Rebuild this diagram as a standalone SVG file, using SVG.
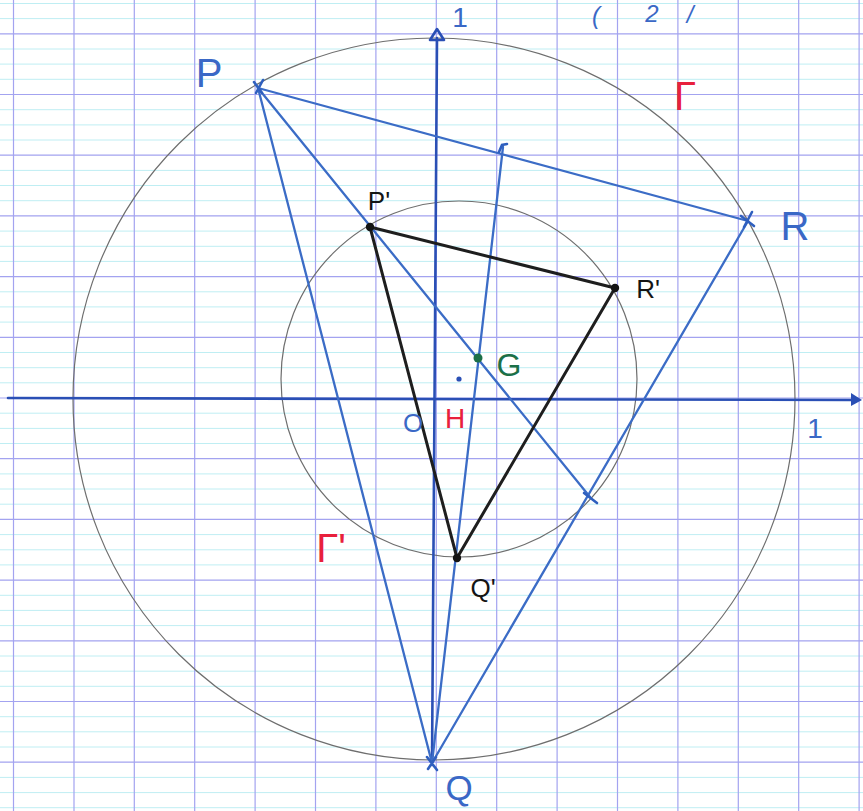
<svg xmlns="http://www.w3.org/2000/svg" width="863" height="811" viewBox="0 0 863 811">
<defs>
<style>
.minor{stroke:#bfeef3;stroke-width:1;fill:none}
.major{stroke:#a3a3f0;stroke-width:1.2;fill:none}
.circle{fill:none;stroke:#6e6e6e;stroke-width:1.2}
.axis{stroke:#2a4fb5;stroke-width:2.6;fill:none;stroke-linecap:round}
.blue{stroke:#3b6cc6;stroke-width:2.3;fill:none;stroke-linecap:round}
.black{stroke:#1e1e1e;stroke-width:3;fill:none;stroke-linejoin:round;stroke-linecap:round}
.tick{stroke:#2f5fbf;stroke-width:2.6;fill:none;stroke-linecap:round}
.lbl{font-family:"Liberation Sans","DejaVu Sans",sans-serif;text-anchor:middle}
.lb{fill:#3a68c6}
.lr{fill:#e8203c}
.lk{fill:#141414}
.lg{fill:#1b7048}
</style>
</defs>
<rect width="863" height="811" fill="#ffffff"/>
<g id="paper">
<path class="minor" d="M0 3.5H863M0 18.6H863M0 49H863M0 64.1H863M0 79.3H863M0 109.7H863M0 124.9H863M0 140H863M0 170.4H863M0 185.5H863M0 200.7H863M0 231.1H863M0 246.3H863M0 261.4H863M0 291.8H863M0 306.9H863M0 322.1H863M0 352.5H863M0 367.7H863M0 382.8H863M0 413.2H863M0 428.4H863M0 443.5H863M0 473.9H863M0 489H863M0 504.2H863M0 534.6H863M0 549.8H863M0 564.9H863M0 595.3H863M0 610.4H863M0 625.6H863M0 656H863M0 671.2H863M0 686.3H863M0 716.7H863M0 731.8H863M0 747H863M0 777.4H863M0 792.6H863M0 807.7H863"/>
<path class="major" d="M0 33.8H863M0 94.5H863M0 155.2H863M0 215.9H863M0 276.6H863M0 337.3H863M0 398H863M0 458.7H863M0 519.4H863M0 580.1H863M0 640.8H863M0 701.5H863M0 762.2H863"/>
<path class="major" d="M13.5 0V811M74 0V811M134.3 0V811M194.7 0V811M255.1 0V811M315.5 0V811M375.9 0V811M436.3 0V811M496.7 0V811M557.1 0V811M617.5 0V811M677.9 0V811M738.3 0V811M798.7 0V811M859.1 0V811"/>
</g>
<g id="circles">
<circle id="Gamma-circle" class="circle" cx="434" cy="399" r="361"/>
<circle id="Gamma-prime-circle" class="circle" cx="459" cy="379" r="178"/>
</g>
<g id="axes">
<line class="axis" x1="8" y1="398" x2="853" y2="400"/>
<path d="M851 393 L862 400 L851 406 Z" fill="#2a4fb5"/>
<line class="axis" x1="432" y1="765" x2="437" y2="38"/>
<path d="M430 40 L437 29 L444 40 Z" fill="none" stroke="#2a4fb5" stroke-width="2.6" stroke-linejoin="round"/>
</g>
<g id="connectors">
<line class="blue" x1="258" y1="88" x2="748" y2="221"/>
<line class="blue" x1="258" y1="88" x2="432" y2="763"/>
<line class="blue" x1="432" y1="763" x2="748" y2="221"/>
<line class="blue" x1="258" y1="88" x2="590" y2="497"/>
<line class="blue" x1="432" y1="763" x2="503" y2="147"/>
<path class="black" d="M370 227 L615 288 L457 558 Z"/>
<path class="tick" d="M499 152 L502 145 L507 144"/>
<path class="tick" d="M584 493 L597 503"/>
</g>
<g id="top-note">
<text class="lbl lb" font-size="24" font-style="italic"><tspan x="596" y="24">(</tspan><tspan x="652" y="22">2</tspan><tspan x="690" y="23">/</tspan></text>
</g>
<g id="P">
<path class="tick" d="M254 82 L262 93 M256 93 L263 80"/>
<text class="lbl lb" x="209" y="87" font-size="40">P</text>
</g>
<g id="R">
<path class="tick" d="M741 216 L754 226 M744 227 L752 212"/>
<text class="lbl lb" x="795" y="240" font-size="40">R</text>
</g>
<g id="Q">
<path class="tick" d="M427 757 L437 770 M428 769 L436 757"/>
<text class="lbl lb" x="459" y="800" font-size="35">Q</text>
</g>
<g id="P-prime">
<circle cx="370" cy="227" r="4.2" fill="#141414"/>
<text class="lbl lk" x="379" y="210" font-size="26">P'</text>
</g>
<g id="R-prime">
<circle cx="615" cy="288" r="4.2" fill="#141414"/>
<text class="lbl lk" x="648" y="298" font-size="26">R'</text>
</g>
<g id="Q-prime">
<circle cx="457" cy="558" r="4.2" fill="#141414"/>
<text class="lbl lk" x="483" y="597" font-size="26">Q'</text>
</g>
<g id="G">
<circle cx="478" cy="358" r="4.5" fill="#1b7048"/>
<text class="lbl lg" x="509" y="376" font-size="32">G</text>
</g>
<g id="H">
<circle cx="459" cy="379" r="2.6" fill="#2a4fb5"/>
<text class="lbl lr" x="455" y="428" font-size="28">H</text>
</g>
<g id="O">
<text class="lbl lb" x="413" y="432" font-size="26">O</text>
</g>
<g id="unit-y">
<text class="lbl lb" x="460" y="27" font-size="28">1</text>
</g>
<g id="unit-x">
<text class="lbl lb" x="815" y="438" font-size="28">1</text>
</g>
<g id="Gamma">
<text class="lbl lr" x="685" y="110" font-size="40">Γ</text>
</g>
<g id="Gamma-prime">
<text class="lbl lr" x="331" y="562" font-size="40">Γ'</text>
</g>
</svg>
